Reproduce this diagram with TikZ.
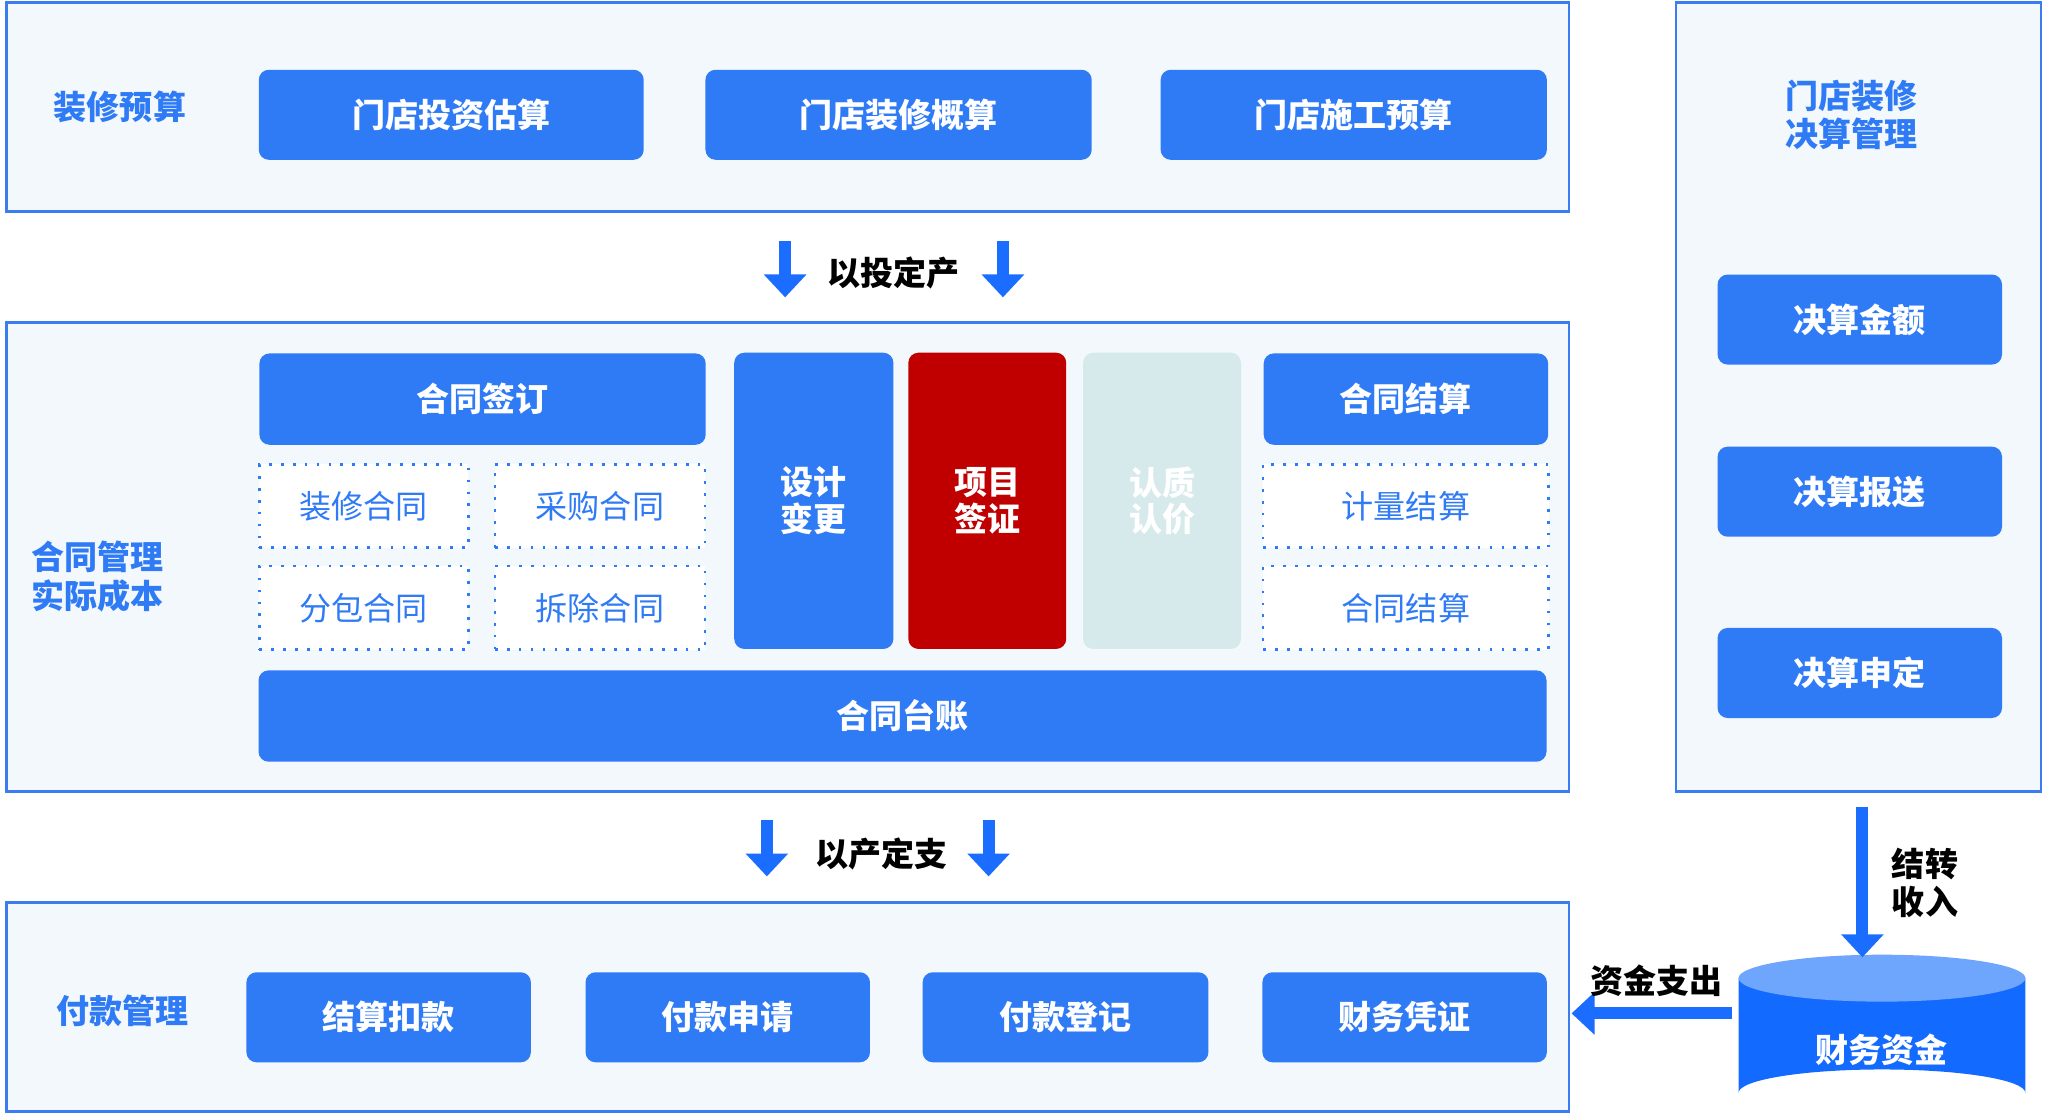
\documentclass[tikz,border=0pt]{standalone}
\usepackage{fontspec}
\setmainfont{Noto Sans CJK SC}
\usetikzlibrary{positioning,arrows.meta,shapes.geometric}
\definecolor{panelbg}{HTML}{F3F8FC}
\definecolor{panelline}{HTML}{3B7CF0}
\definecolor{btnblue}{HTML}{2F7BF6}
\definecolor{arrblue}{HTML}{1A6DFF}
\definecolor{cylblue}{HTML}{136AFF}
\definecolor{cyltop}{HTML}{6EA5FD}
\definecolor{redbox}{HTML}{C00000}
\definecolor{palebox}{HTML}{D6EAEC}
\tikzset{
  panel/.style={draw=panelline, line width=0.6pt, fill=panelbg},
  btn/.style={fill=btnblue, rounded corners=2.2pt, text=white, font=\fontsize{7.2}{8}\selectfont\bfseries, inner sep=0pt, align=center},
  dotbox/.style={draw=btnblue, dotted, line width=0.6pt, fill=white, text=btnblue, font=\fontsize{7}{8}\selectfont, inner sep=0pt},
  lbl/.style={text=btnblue, font=\fontsize{7.2}{8.4}\selectfont\bfseries, align=left},
  blk/.style={font=\fontsize{7.2}{8.4}\selectfont\bfseries, align=left},
  bigarr/.style={draw=arrblue, line width=2.6pt, -{Triangle[width=9pt,length=5pt]}}
}
\begin{document}
\begin{tikzpicture}[x=0.01cm,y=-0.01cm]
\useasboundingbox (0,0) rectangle (1568,857);

% panels
\draw[panel] (5,2) rectangle (1203,162);
\draw[panel] (5,247) rectangle (1203,607);
\draw[panel] (5,692) rectangle (1203,852);
\draw[panel] (1285,2) rectangle (1565,607);

% budget row
\node[lbl] (ys) at (92,82) {装修预算};
\node[btn, minimum width=2.95cm, minimum height=0.69cm] (tz) at (346,88) {门店投资估算};
\node[btn, minimum width=2.96cm, minimum height=0.69cm] (gs) at (689,88) {门店装修概算};
\node[btn, minimum width=2.96cm, minimum height=0.69cm] (sg) at (1038,88) {门店施工预算};

% first arrows
\node[blk] (ytdc) at (685,209) {以投定产};
\coordinate (a1s) at (602,185); \coordinate (a1e) at (602,228);
\coordinate (a2s) at (769,185); \coordinate (a2e) at (769,228);
\draw[bigarr] (a1s) -- (a1e);
\draw[bigarr] (a2s) -- (a2e);

% contract block
\node[lbl] (ht) at (75,442) {合同管理\\实际成本};
\node[btn, minimum width=3.42cm, minimum height=0.70cm] (qd) at (370,306) {合同签订};
\node[dotbox, minimum width=1.60cm, minimum height=0.64cm] (zx) at (279,388) {装修合同};
\node[dotbox, minimum width=1.61cm, minimum height=0.64cm] (cg) at (460,388) {采购合同};
\node[dotbox, minimum width=1.60cm, minimum height=0.64cm] (fb) at (279,466) {分包合同};
\node[dotbox, minimum width=1.61cm, minimum height=0.64cm] (cc) at (460,466) {拆除合同};
\node[btn, minimum width=1.22cm, minimum height=2.27cm] (sj) at (624,384) {设计\\变更};
\node[btn, fill=redbox, minimum width=1.21cm, minimum height=2.27cm] (xm) at (757,384) {项目\\签证};
\node[btn, fill=palebox, minimum width=1.21cm, minimum height=2.27cm] (rz) at (891,384) {认质\\认价};
\node[btn, minimum width=2.18cm, minimum height=0.70cm] (js) at (1078,306) {合同结算};
\node[dotbox, minimum width=2.19cm, minimum height=0.64cm] (jl) at (1078,388) {计量结算};
\node[dotbox, minimum width=2.19cm, minimum height=0.64cm] (hj) at (1078,466) {合同结算};
\node[btn, minimum width=9.87cm, minimum height=0.70cm] (tzz) at (692,549) {合同台账};

% second arrows
\node[blk] (ycdz) at (676,655) {以产定支};
\coordinate (b1s) at (588,629); \coordinate (b1e) at (588,672);
\coordinate (b2s) at (758,629); \coordinate (b2e) at (758,672);
\draw[bigarr] (b1s) -- (b1e);
\draw[bigarr] (b2s) -- (b2e);

% payment row
\node[lbl] (fk) at (94,775) {付款管理};
\node[btn, minimum width=2.18cm, minimum height=0.69cm] (jk) at (298,780) {结算扣款};
\node[btn, minimum width=2.18cm, minimum height=0.69cm] (sq) at (558,780) {付款申请};
\node[btn, minimum width=2.19cm, minimum height=0.69cm] (dj) at (817,780) {付款登记};
\node[btn, minimum width=2.18cm, minimum height=0.69cm] (pz) at (1077,780) {财务凭证};

% settlement panel
\node[lbl] (jsgl) at (1420,88) {门店装修\\决算管理};
\node[btn, minimum width=2.18cm, minimum height=0.69cm] (je) at (1426,245) {决算金额};
\node[btn, minimum width=2.18cm, minimum height=0.69cm] (bs) at (1426,377) {决算报送};
\node[btn, minimum width=2.18cm, minimum height=0.69cm] (sd) at (1426,516) {决算申定};

% fund cylinder
\fill[cylblue] (1333,750) -- (1333,838) arc[start angle=180, end angle=360, x radius=110, y radius=18] -- (1553,750) -- cycle;
\fill[cyltop] (1443,750) ellipse[x radius=110, y radius=18];
\node[btn, fill=none] (cw) at (1443,805) {财务资金};

\coordinate (c1s) at (1428,619); \coordinate (c1e) at (1428,734);
\draw[bigarr] (c1s) -- (c1e);
\node[blk] (jz) at (1476,677) {结转\\收入};
\coordinate (d1s) at (1328,777); \coordinate (d1e) at (1205,777);
\draw[bigarr] (d1s) -- (d1e);
\node[blk] (zj) at (1270,752) {资金支出};
\end{tikzpicture}
\end{document}
